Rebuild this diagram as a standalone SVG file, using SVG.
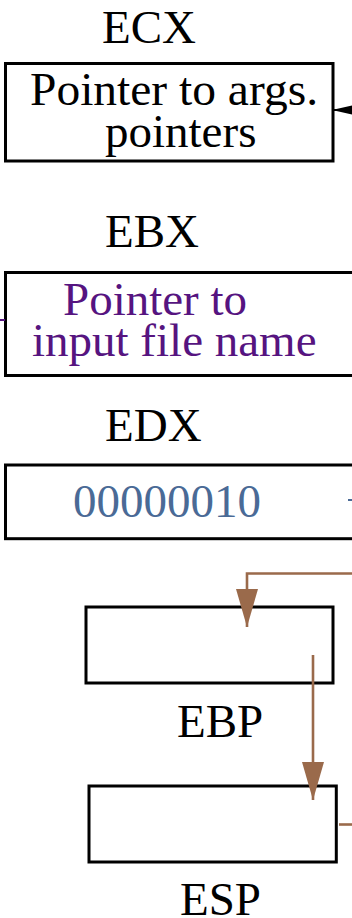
<svg xmlns="http://www.w3.org/2000/svg" width="352" height="918" viewBox="0 0 352 918">
<style>
text{font-family:"Liberation Serif","Times New Roman",serif;font-size:47px;fill:#000}
.box{fill:#fff;stroke:#000;stroke-width:3}
.purple{fill:#561480}
.blue{fill:#4a6a96}
.brown{fill:none;stroke:#9a6a4b;stroke-width:2.6}
</style>
<defs>
<marker id="ab" markerUnits="userSpaceOnUse" viewBox="0 0 38 22" refX="38" refY="11" markerWidth="38" markerHeight="22" orient="auto">
<path d="M0,0 L38,11 L0,22 z" fill="#9a6a4b"/>
</marker>
<marker id="ak" markerUnits="userSpaceOnUse" viewBox="0 0 26 12" refX="26" refY="6" markerWidth="26" markerHeight="12" orient="auto">
<path d="M0,0 L26,6 L0,12 z" fill="#000"/>
</marker>
</defs>
<g id="ecx">
<text x="102" y="43">ECX</text>
<rect class="box" x="5.5" y="63.5" width="327.5" height="97.5"/>
<text x="30" y="105" textLength="288" lengthAdjust="spacingAndGlyphs">Pointer to args.</text>
<text x="105" y="147">pointers</text>
</g>
<g id="ebx">
<text x="105" y="247">EBX</text>
<rect class="box" x="5.5" y="272.5" width="360" height="103"/>
<text class="purple" x="63" y="315">Pointer to</text>
<text class="purple" x="32" y="356">input file name</text>
</g>
<g id="edx">
<text x="105" y="441">EDX</text>
<rect class="box" x="5.5" y="465" width="360" height="73.7"/>
<text class="blue" x="73" y="517">00000010</text>
</g>
<g id="ebp">
<rect class="box" x="86" y="607" width="247" height="76"/>
<text x="177" y="737">EBP</text>
</g>
<g id="esp">
<rect class="box" x="89" y="786" width="247.3" height="76"/>
<text x="180" y="915">ESP</text>
</g>
<g id="connectors">
<path d="M370,110 L332,110" stroke="#000" stroke-width="2" fill="none" marker-end="url(#ak)"/>
<path class="brown" d="M360,573.5 L247,573.5 L247,627" marker-end="url(#ab)"/>
<path class="brown" d="M313,655 L313,800" marker-end="url(#ab)"/>
<path class="brown" d="M339,824.5 L360,824.5"/>
<path d="M0,320 L5,320" stroke="#561480" stroke-width="2"/>
<path d="M348,500 L352,500" stroke="#4a6a96" stroke-width="2"/>
</g>
</svg>
